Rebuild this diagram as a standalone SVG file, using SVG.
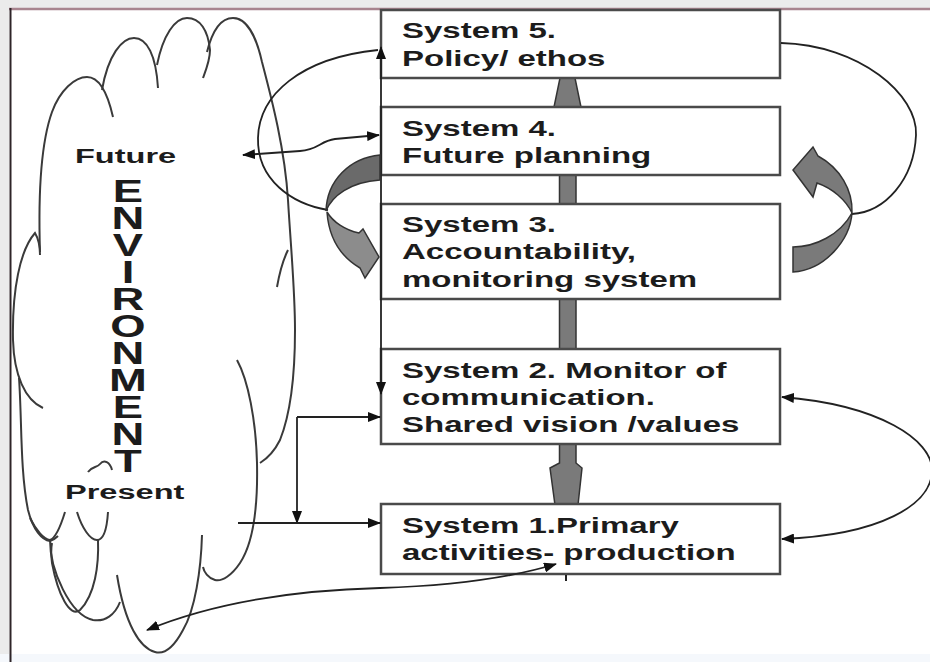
<svg xmlns="http://www.w3.org/2000/svg" width="930" height="662" viewBox="0 0 930 662">
<defs>
<style>
.box{fill:#fff;stroke:#4a4a4a;stroke-width:2.5}
.t{font-family:"Liberation Sans",Arial,sans-serif;font-weight:bold;font-size:22px;fill:#1c1c1c}
.lbl{font-family:"Liberation Sans",Arial,sans-serif;font-weight:bold;font-size:21px;fill:#1c1c1c}
.env{font-family:"Liberation Sans",Arial,sans-serif;font-weight:bold;font-size:32px;fill:#1c1c1c;text-anchor:middle}
.cl{fill:none;stroke:#3a3a3a;stroke-width:2}
.c{fill:none;stroke:#222;stroke-width:1.8}
.ca{marker-end:url(#ah)}
.cb{marker-start:url(#ah);marker-end:url(#ah)}
.g{fill:#7a7a7a;stroke:#333;stroke-width:1.5}
.gd{fill:#6a6a6a;stroke:#333;stroke-width:1.5}
.gl{fill:#8c8c8c;stroke:#333;stroke-width:1.5}
</style>
<marker id="ah" markerUnits="userSpaceOnUse" markerWidth="13" markerHeight="10" refX="12" refY="5" orient="auto-start-reverse">
<path d="M0,0 L13,5 L0,10 Z" fill="#111"/>
</marker>
</defs>

<rect x="0" y="0" width="930" height="662" fill="#fff"/>
<rect x="0" y="0" width="930" height="8" fill="#ebebeb"/>
<rect x="0" y="0" width="9" height="662" fill="#ebebeb"/>
<rect x="0" y="654" width="930" height="8" fill="#f5f8fc"/>
<line x1="9" y1="9" x2="930" y2="9" stroke="#a8848e" stroke-width="2.5"/>
<line x1="10.5" y1="8" x2="10.5" y2="662" stroke="#2e2428" stroke-width="2"/>

<g id="environment">
<path class="cl" d="M40 252 C38 190,42 140,52 112 C60 90,75 77,87 77 C100 77,108 95,113 117"/>
<path class="cl" d="M102 90 C108 55,122 38,134 38 C147 38,156 55,158 88"/>
<path class="cl" d="M157 65 C163 35,175 18,187 18 C200 18,208 30,210 50 C210 60,206 70,203 78"/>
<path class="cl" d="M207 52 C213 28,222 18,233 18 C246 18,256 35,262 62 C272 100,285 150,288 200 C291 250,295 290,295 330 C295 370,292 410,280 440 C275 450,268 458,260 463"/>
<path class="cl" d="M277 287 C280 270,284 258,288 250"/>
<path class="cl" d="M237 360 C248 380,256 420,257 463 C258 510,252 545,240 563 C232 575,222 582,215 580 C208 578,204 572,203 567"/>
<path class="cl" d="M202 535 C201 570,195 610,183 630 C175 645,165 655,155 652 C140 648,125 625,117 575"/>
<path class="cl" d="M50 540 C50 570,70 615,93 620 C105 622,115 615,120 602"/>
<path class="cl" d="M98 540 C99 565,95 595,80 610 C70 618,58 595,52 563 C51 555,51 548,52 543"/>
<path class="cl" d="M77 512 C82 528,90 540,97 540 C104 540,107 528,108 512"/>
<path class="cl" d="M30 518 C36 530,44 540,50 540 C56 538,61 525,65 512"/>
<path class="cl" d="M43 408 C25 400,14 375,13 340 C12 290,20 250,35 233 C38 238,40 245,40 255"/>
<path class="cl" d="M19 378 C22 420,20 470,28 510 C33 530,42 540,50 541 C53 540,56 538,58 536"/>
<path class="cl" d="M88 472 C92 466,97 468,100 464 C104 459,110 462,112 470"/>
<text class="lbl" transform="translate(75,163) scale(1.55,1)">Future</text>
<text class="env" transform="translate(128,202) scale(1.42,1)"><tspan x="0" y="0">E</tspan><tspan x="0" y="27">N</tspan><tspan x="0" y="54">V</tspan><tspan x="0" y="81">I</tspan><tspan x="0" y="108">R</tspan><tspan x="0" y="135">O</tspan><tspan x="0" y="162">N</tspan><tspan x="0" y="189">M</tspan><tspan x="0" y="216">E</tspan><tspan x="0" y="243">N</tspan><tspan x="0" y="270">T</tspan></text>
<text class="lbl" transform="translate(65,499) scale(1.55,1)">Present</text>
</g>

<g id="spine">
<path class="g" d="M560 78 L575 78 L581 107 L554 107 Z"/>
<rect class="g" x="559.5" y="174" width="16.5" height="32"/>
<rect class="g" x="559.5" y="297" width="16.5" height="54"/>
<path class="g" d="M559.5 443 L559.5 463 L550 468 L555 505 L578 505 L582 468 L576 463 L576 443 Z"/>
</g>

<g id="s5"><rect class="box" x="381" y="10" width="399" height="68"/>
<text class="t" transform="translate(402,38) scale(1.5,1)"><tspan x="0">System 5.</tspan><tspan x="0" dy="28">Policy/ ethos</tspan></text></g>
<g id="s4"><rect class="box" x="381" y="107" width="399" height="68"/>
<text class="t" transform="translate(402,136) scale(1.5,1)"><tspan x="0">System 4.</tspan><tspan x="0" dy="27">Future planning</tspan></text></g>
<g id="s3"><rect class="box" x="381" y="204" width="399" height="95"/>
<text class="t" transform="translate(402,232) scale(1.5,1)"><tspan x="0">System 3.</tspan><tspan x="0" dy="27">Accountability,</tspan><tspan x="0" dy="28">monitoring system</tspan></text></g>
<g id="s2"><rect class="box" x="381" y="349" width="399" height="95"/>
<text class="t" transform="translate(402,378) scale(1.5,1)"><tspan x="0">System 2. Monitor of</tspan><tspan x="0" dy="27">communication.</tspan><tspan x="0" dy="27">Shared vision /values</tspan></text></g>
<g id="s1"><rect class="box" x="381" y="504" width="399" height="70"/>
<text class="t" transform="translate(402,533) scale(1.5,1)"><tspan x="0">System 1.Primary</tspan><tspan x="0" dy="27">activities- production</tspan></text></g>

<g id="connectors">
<line class="c cb" x1="381" y1="47" x2="381" y2="394"/>
<path class="c" d="M328 210 C292 204,257 180,258 138 C259 95,300 58,378 50"/>
<path class="c" d="M781 43 C860 45,918 95,916 135 C914 180,885 212,852 214"/>
<path class="c cb" d="M243 155 L300 151 C318 150,320 141,335 139 L379 135"/>
<path class="c ca" d="M297 417 L380 417"/>
<path class="c ca" d="M297 417 L297 523"/>
<path class="c ca" d="M238 523 L380 523"/>
<path class="c cb" d="M147 630 C220 600,300 590,380 588 C470 585,520 575,556 564"/>
<path class="c cb" d="M782 397 C880 405,932 440,932 470 C932 505,880 535,782 539"/>
<line x1="566" y1="575" x2="566" y2="581" stroke="#222" stroke-width="2"/>
<path class="gd" d="M380 155 C350 158,327 180,326 211 C332 196,350 182,380 180 Z"/>
<path class="gl" d="M327 212 C333 222,345 230,359 233 L363 229 L379 257 L365 278 L360 268 C343 258,329 240,327 212 Z"/>
<path class="g" d="M793 247 C815 247,840 235,852 213 C850 240,825 270,793 272 Z"/>
<path class="g" d="M852 213 C853 190,840 168,818 156 L813 147 L793 170 L813 197 L817 183 C832 188,846 200,852 213 Z"/>
</g>
</svg>
